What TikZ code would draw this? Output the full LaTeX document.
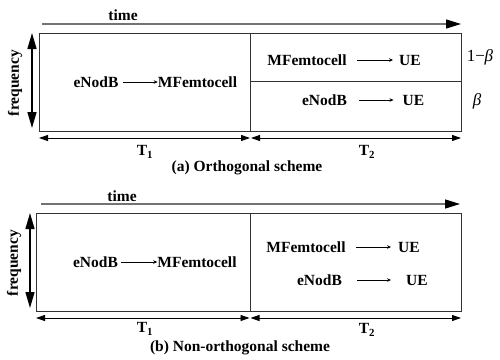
\documentclass[tikz,border=0pt]{standalone}
\usepackage{fontspec}
\setmainfont{Liberation Serif}
\usetikzlibrary{arrows.meta}

\begin{document}
\begin{tikzpicture}[x=1pt,y=-1pt,>=Stealth]
    \tikzset{lbl/.style={font=\fontsize{15.5}{18}\selectfont\bfseries,inner sep=0pt},
      share/.style={font=\fontsize{17}{19}\selectfont,inner sep=0pt},
      frame/.style={draw=black!80,line width=0.8pt},
      timeline/.style={draw=black!55,line width=1.4pt,-{Triangle[length=15pt,width=9pt,color=black]}},
      freqline/.style={line width=1.4pt,{Triangle[length=16pt,width=9pt]}-{Triangle[length=16pt,width=9pt]}},
      spanline/.style={line width=0.9pt,{Triangle[length=9pt,width=6pt]}-{Triangle[length=9pt,width=6pt]}},
      link/.style={line width=0.9pt,-{Stealth[length=4pt,width=3.5pt]}}}
    \useasboundingbox (0,0) rectangle (500,359);
    % (a) orthogonal
    \coordinate (a-nw) at (39,33);   \coordinate (a-se) at (461,131);
    \coordinate (a-mt) at (250.5,33); \coordinate (a-mb) at (250.5,131);
    \coordinate (a-hl) at (250.5,81); \coordinate (a-hr) at (461,81);
    \coordinate (a-t0) at (42,24);   \coordinate (a-t1) at (461,24);
    \coordinate (a-f0) at (32,33);   \coordinate (a-f1) at (32,128);
    \coordinate (a-s0) at (39,138);  \coordinate (a-s1) at (250,138);
    \coordinate (a-s2) at (251,138); \coordinate (a-s3) at (461,138);
    \draw[frame] (a-nw) rectangle (a-se);
    \draw[frame] (a-mt) -- (a-mb);
    \draw[frame] (a-hl) -- (a-hr);
    \draw[timeline] (a-t0) -- (a-t1);
    \draw[freqline] (a-f0) -- (a-f1);
    \draw[spanline] (a-s0) -- (a-s1);
    \draw[spanline] (a-s2) -- (a-s3);
    \node[lbl] (a-time) at (123,15) {time};
    \node[lbl,rotate=90] (a-freq) at (15,83) {frequency};
    \node[lbl] (a-enb) at (96,82) {eNodB};
    \node[lbl] (a-mfc) at (197.5,82) {MFemtocell};
    \node[lbl] (a-mfc2) at (307,60) {MFemtocell};
    \node[lbl] (a-ue1) at (410,60) {UE};
    \node[lbl] (a-enb2) at (324.5,100) {eNodB};
    \node[lbl] (a-ue2) at (413.5,100) {UE};
    \draw[link,shorten <=4pt,shorten >=0pt] (a-enb.east) -- (a-mfc.west);
    \draw[link,shorten <=10pt,shorten >=6pt] (a-mfc2.east) -- (a-ue1.west);
    \draw[link,shorten <=12pt,shorten >=9pt] (a-enb2.east) -- (a-ue2.west);
    \node[lbl] (a-T1) at (145,152) {T\textsubscript{1}};
    \node[lbl] (a-T2) at (367,152) {T\textsubscript{2}};
    \node[share] (a-share1) at (480,57) {1−\kern-0.5pt\textit{β}};
    \node[share] (a-share2) at (477,101) {\textit{β}};
    \node[lbl] (a-cap) at (247,168) {(a) Orthogonal scheme};
    % (b) non-orthogonal
    \coordinate (b-nw) at (36,213);  \coordinate (b-se) at (461,311);
    \coordinate (b-mt) at (250,213); \coordinate (b-mb) at (250,311);
    \coordinate (b-t0) at (41,204);  \coordinate (b-t1) at (460,204);
    \coordinate (b-f0) at (30,213);  \coordinate (b-f1) at (30,308);
    \coordinate (b-s0) at (36,318);  \coordinate (b-s1) at (249.5,318);
    \coordinate (b-s2) at (250.5,318); \coordinate (b-s3) at (461,318);
    \draw[frame] (b-nw) rectangle (b-se);
    \draw[frame] (b-mt) -- (b-mb);
    \draw[timeline] (b-t0) -- (b-t1);
    \draw[freqline] (b-f0) -- (b-f1);
    \draw[spanline] (b-s0) -- (b-s1);
    \draw[spanline] (b-s2) -- (b-s3);
    \node[lbl] (b-time) at (122,196) {time};
    \node[lbl,rotate=90] (b-freq) at (14,263) {frequency};
    \node[lbl] (b-enb) at (95.5,262) {eNodB};
    \node[lbl] (b-mfc) at (197,262) {MFemtocell};
    \node[lbl] (b-mfc2) at (306,247) {MFemtocell};
    \node[lbl] (b-ue1) at (409,247) {UE};
    \node[lbl] (b-enb2) at (319.5,280) {eNodB};
    \node[lbl] (b-ue2) at (417,280) {UE};
    \draw[link,shorten <=3pt,shorten >=0pt] (b-enb.east) -- (b-mfc.west);
    \draw[link,shorten <=10pt,shorten >=7pt] (b-mfc2.east) -- (b-ue1.west);
    \draw[link,shorten <=15pt,shorten >=15pt] (b-enb2.east) -- (b-ue2.west);
    \node[lbl] (b-T1) at (145,329) {T\textsubscript{1}};
    \node[lbl] (b-T2) at (367,330) {T\textsubscript{2}};
    \node[lbl] (b-cap) at (240,348) {(b) Non-orthogonal scheme};
  \end{tikzpicture}
\end{document}
